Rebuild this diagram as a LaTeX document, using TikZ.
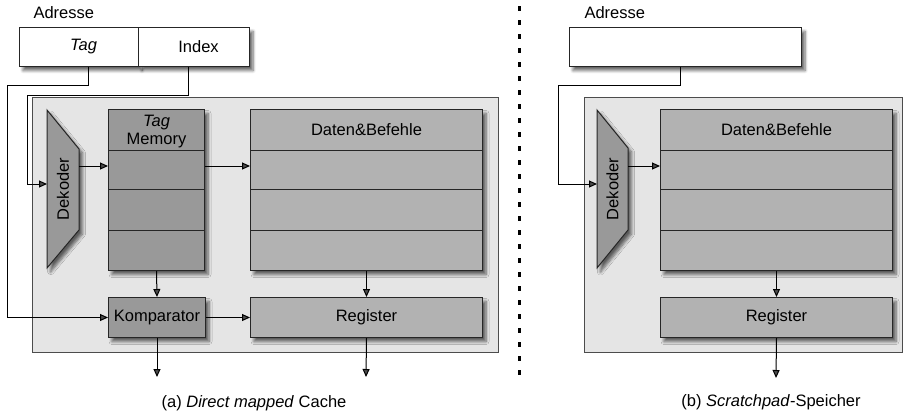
\documentclass[tikz,border=0pt]{standalone}
\usepackage{fontspec}
\setmainfont{Liberation Sans}
\usepackage{xcolor}
\usepackage{tikz}
\usetikzlibrary{calc,arrows.meta,shadows.blur}

\tikzset{
  schatten/.style={blur shadow={shadow xshift=3.5pt,shadow yshift=-4pt,shadow blur steps=6,shadow blur radius=3pt,shadow opacity=60}},
  adrbox/.style={draw=black!85,fill=white,line width=1pt,anchor=north west,minimum height=39,inner sep=0pt,schatten},
  panel/.style={draw=black!70,fill=black!10,line width=1pt,anchor=north west,inner sep=0pt},
  dunkel/.style={draw=black!85,fill=black!40,line width=1pt,anchor=north west,inner sep=0pt,schatten},
  hell/.style={draw=black!85,fill=black!30,line width=1pt,anchor=north west,inner sep=0pt,schatten},
  pfeil/.style={line width=1pt,-{Triangle[length=8pt,width=7pt]}},
}

\begin{document}
\begin{tikzpicture}[x=1pt,y=-1pt,font=\fontsize{16.5}{18}\selectfont]
	    \useasboundingbox (0,0) rectangle (905,416);
	    % (a) direct mapped cache
	    \node[anchor=west] (adra) at (30,13) {Adresse};
	    \node[adrbox,minimum width=119] (tag) at (19,27) {\hspace*{9pt}\itshape Tag};
	    \node[adrbox,minimum width=111] (idx) at (138,27) {\hspace*{9pt}Index};
	    \node[panel,minimum width=466,minimum height=255] (pa) at (32,97) {};
	    \draw[dunkel] (47,110) -- (79,149) -- (79,230) -- (47,268) -- cycle; % dekoder
	    \node[rotate=90] (deka) at (63,189) {Dekoder};
	    \coordinate (dekain) at (47,184);
	    \coordinate (dekaout) at (79,166);
	    \node[dunkel,minimum width=96,minimum height=161] (tm) at (108,109) {};
	    \foreach \y in {41,80,121} \draw[line width=1pt,black!85] (tm.north west) ++(0,\y) -- ++(96,0);
	    \node[align=center] (tmtext) at ($(tm.north)+(0,23)$) {\itshape Tag\\Memory};
	    \node[hell,minimum width=232,minimum height=161] (da) at (250,109) {};
	    \foreach \y in {41,80,121} \draw[line width=1pt,black!85] (da.north west) ++(0,\y) -- ++(232,0);
	    \node (datext) at ($(da.north)+(0,21)$) {Daten\&Befehle};
	    \node[dunkel,minimum width=97,minimum height=40] (komp) at (108,297) {Komparator};
	    \node[hell,minimum width=232,minimum height=40] (rega) at (250,297) {Register};
	    \coordinate (kompout) at (157,377);
	    \coordinate (regaout) at (366,377);
	    \draw[pfeil] ([xshift=9.5pt]tag.south) |- ++(-81,18) |- (komp.west); % tag
	    \draw[pfeil] ([xshift=-5.5pt]idx.south) |- ++(-161,28) |- (dekain); % index
	    \draw[pfeil] (dekaout) -- (dekaout -| tm.west);
	    \draw[pfeil] (tm.east |- dekaout) -- (da.west |- dekaout);
	    \draw[pfeil] (tm.south) -- (komp.north);
	    \draw[pfeil] (komp.east) -- (rega.west);
	    \draw[pfeil] (da.south) -- (rega.north);
	    \draw[pfeil] (komp.south) -- (kompout);
	    \draw[pfeil] (rega.south) -- (regaout);
	    \node (capa) at (254,403) {(a) \textit{Direct mapped} Cache};
	    % trennlinie
	    \coordinate (trennoben) at (519,6);
	    \coordinate (trennunten) at (519,380);
	    \draw[line width=3pt,dash pattern=on 5pt off 9pt] (trennoben) -- (trennunten);
	    % (b) scratchpad
	    \node[anchor=west] (adrb) at (581,13) {Adresse};
	    \node[adrbox,minimum width=232] (adr) at (569,27) {};
	    \node[panel,minimum width=318,minimum height=255] (pb) at (584,97) {};
	    \draw[dunkel] (597,110) -- (628,148) -- (628,230) -- (597,268) -- cycle; % dekoder
	    \node[rotate=90] (dekb) at (612.5,189) {Dekoder};
	    \coordinate (dekbin) at (597,184);
	    \coordinate (dekbout) at (628,166);
	    \node[hell,minimum width=232,minimum height=161] (db) at (660,109) {};
	    \foreach \y in {41,80,121} \draw[line width=1pt,black!85] (db.north west) ++(0,\y) -- ++(232,0);
	    \node (dbtext) at ($(db.north)+(0,21)$) {Daten\&Befehle};
	    \node[hell,minimum width=232,minimum height=40] (regb) at (660,297) {Register};
	    \coordinate (regbout) at (776,378);
	    \draw[pfeil] ([xshift=-5pt]adr.south) |- ++(-122,18) |- (dekbin);
	    \draw[pfeil] (dekbout) -- (dekbout -| db.west);
	    \draw[pfeil] (db.south) -- (regb.north);
	    \draw[pfeil] (regb.south) -- (regbout);
	    \node (capb) at (771,402) {(b) \textit{Scratchpad}-Speicher};
	    \end{tikzpicture}
\end{document}
